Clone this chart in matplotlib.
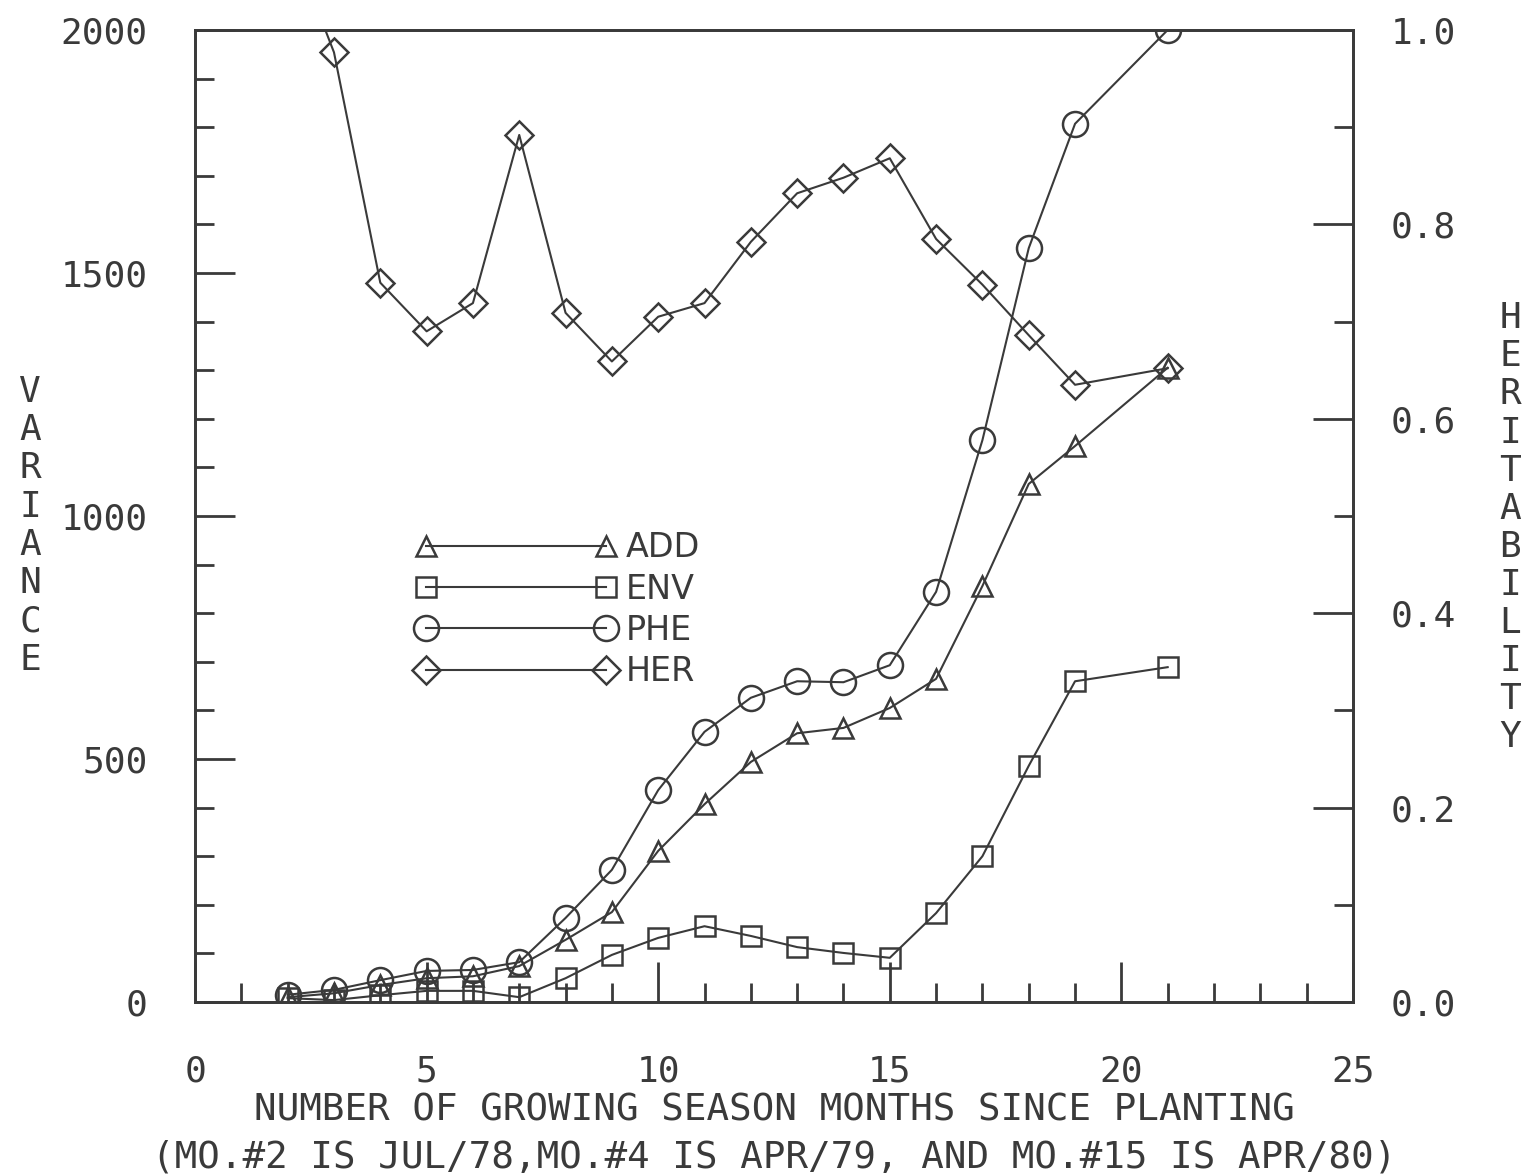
import matplotlib.pyplot as plt
from matplotlib.ticker import MultipleLocator

# growing season months (no value at month 20)
months = [2, 3, 4, 5, 6, 7, 8, 9, 10, 11, 12, 13, 14, 15, 16, 17, 18, 19, 21]

# variances (left axis)
add_var = [10, 18, 35, 49, 53, 74, 128, 185, 311, 407, 494, 553, 564, 605, 665, 856, 1066, 1144, 1305]
env_var = [8, 4, 14, 23, 23, 10, 49, 97, 132, 156, 136, 113, 101, 91, 183, 300, 486, 660, 689]
phe_var = [15, 25, 45, 64, 66, 82, 173, 272, 436, 556, 626, 660, 658, 693, 844, 1156, 1551, 1807, 2000]

# heritability (right axis)
her = [1.10, 0.977, 0.740, 0.690, 0.719, 0.892, 0.709, 0.659, 0.705, 0.719,
       0.782, 0.832, 0.848, 0.868, 0.785, 0.738, 0.686, 0.635, 0.652]

ink = '#3a3a3a'
mono = 'DejaVu Sans Mono'

fig = plt.figure(figsize=(15.26, 11.75), dpi=100)
ax = fig.add_axes([0.1278, 0.1472, 0.7588, 0.8273])
ax2 = ax.twinx()

l1, = ax.plot(months, add_var, color=ink, lw=1.5, marker='^', ms=15, mfc='none', mew=1.8, label='ADD')
l2, = ax.plot(months, env_var, color=ink, lw=1.5, marker='s', ms=14, mfc='none', mew=1.8, label='ENV')
l3, = ax.plot(months, phe_var, color=ink, lw=1.5, marker='o', ms=18, mfc='none', mew=1.8, label='PHE')
l4, = ax2.plot(months, her, color=ink, lw=1.5, marker='D', ms=14, mfc='none', mew=1.8, label='HER')

ax.set_xlim(0, 25)
ax.set_ylim(0, 2000)
ax2.set_ylim(0, 1.0)

ax.xaxis.set_major_locator(MultipleLocator(5))
ax.xaxis.set_minor_locator(MultipleLocator(1))
ax.yaxis.set_major_locator(MultipleLocator(500))
ax.yaxis.set_minor_locator(MultipleLocator(100))
ax2.yaxis.set_major_locator(MultipleLocator(0.2))
ax2.yaxis.set_minor_locator(MultipleLocator(0.1))
ax2.yaxis.set_major_formatter(lambda v, p: f'{v:.1f}')

ax.tick_params(axis='x', which='both', direction='in', top=False, color=ink, width=2, pad=38, labelsize=26)
ax.tick_params(axis='y', which='both', direction='in', right=False, color=ink, width=2, pad=34, labelsize=26)
ax2.tick_params(axis='y', which='both', direction='in', color=ink, width=2, pad=27, labelsize=26)
for a in (ax, ax2):
    a.tick_params(which='major', length=29)
    a.tick_params(which='minor', length=14)
    for s in a.spines.values():
        s.set_linewidth(2)
        s.set_color(ink)
for lab in ax.get_xticklabels() + ax.get_yticklabels() + ax2.get_yticklabels():
    lab.set_fontfamily(mono)
    lab.set_color(ink)

ax.set_xlabel('NUMBER OF GROWING SEASON MONTHS SINCE PLANTING\n'
              '(MO.#2 IS JUL/78,MO.#4 IS APR/79, AND MO.#15 IS APR/80)',
              fontsize=27, fontfamily=mono, color=ink, labelpad=3, linespacing=1.36)
ax.set_ylabel('\n'.join('VARIANCE'), rotation=0, fontsize=26, fontfamily=mono,
              color=ink, va='center', ha='center', linespacing=1.16)
ax.yaxis.set_label_coords(-0.1425, 0.49)
ax2.set_ylabel('\n'.join('HERITABILITY'), rotation=0, fontsize=26, fontfamily=mono,
               color=ink, va='center', ha='center', linespacing=1.15)
ax2.yaxis.set_label_coords(1.136, 0.488)

leg = ax2.legend(handles=[l1, l2, l3, l4], loc='upper left', bbox_to_anchor=(0.165, 0.515),
                 numpoints=2, handlelength=6.0, handletextpad=0.3, labelspacing=0.25,
                 frameon=False, prop={'family': 'DejaVu Sans', 'size': 24})
for t in leg.get_texts():
    t.set_color(ink)

fig.savefig('out.png', dpi=100)
